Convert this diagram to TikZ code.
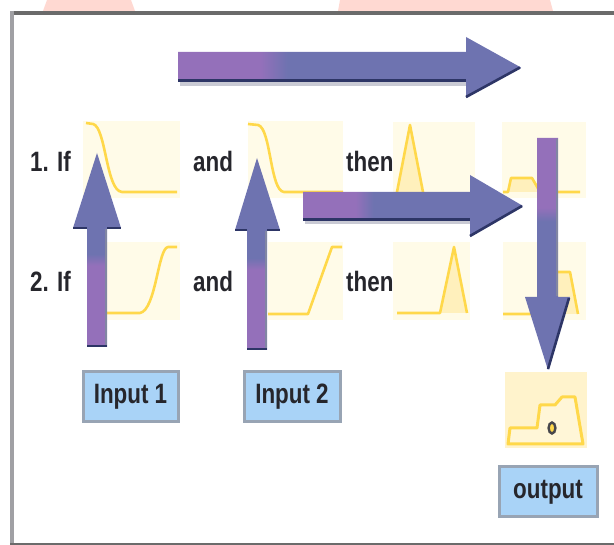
\documentclass[tikz,border=0pt]{standalone}
\usepackage{fontspec}
\newfontfamily\lblfont[FakeStretch=0.8]{Liberation Sans}
\definecolor{panelc}{HTML}{FFFBE8}
\definecolor{outpanelc}{HTML}{FFF3CC}
\definecolor{curvec}{HTML}{FFD84A}
\definecolor{trifill}{HTML}{FFF0BC}
\definecolor{boxfill}{HTML}{A9D3F7}
\definecolor{boxdraw}{HTML}{98A4B4}
\definecolor{darkedge}{HTML}{2D3566}
\definecolor{shadowc}{HTML}{C9CAD4}
\definecolor{pinkc}{HTML}{FFD9D2}
\definecolor{textc}{HTML}{26262C}
\definecolor{framec}{HTML}{6B6B6B}
\definecolor{framel}{HTML}{A0A0A4}
\pgfdeclarehorizontalshading{arrH}{100bp}{rgb(0bp)=(0.58,0.44,0.73); rgb(37bp)=(0.58,0.44,0.73); rgb(41bp)=(0.43,0.45,0.69); rgb(100bp)=(0.43,0.45,0.69)}
\pgfdeclareverticalshading{arrU}{100bp}{rgb(0bp)=(0.58,0.44,0.73); rgb(46bp)=(0.58,0.44,0.73); rgb(49bp)=(0.43,0.45,0.69); rgb(100bp)=(0.43,0.45,0.69)}
\pgfdeclareverticalshading{arrD}{100bp}{rgb(0bp)=(0.43,0.45,0.69); rgb(57bp)=(0.43,0.45,0.69); rgb(60bp)=(0.58,0.44,0.73); rgb(100bp)=(0.58,0.44,0.73)}
\tikzset{
  panel/.style={fill=panelc, draw=none, inner sep=0pt},
  curve/.style={draw=curvec, line width=2.6pt, line join=round},
  lbl/.style={font=\lblfont\bfseries\fontsize{28}{30}\selectfont, text=textc, inner sep=0pt},
  inbox/.style={fill=boxfill, draw=boxdraw, line width=3pt, inner sep=0pt,
    font=\lblfont\bfseries\fontsize{28}{30}\selectfont, text=textc},
  dark/.style={draw=darkedge, line width=2.6pt},
  shadowstrip/.style={fill=shadowc, draw=none}
}
\begin{document}
\begin{tikzpicture}[x=1pt,y=-1pt]
\useasboundingbox (0,0) rectangle (614,545);
\fill[white] (0,0) rectangle (614,545);
% faint pink shapes at the top
\fill[pinkc] (47,0) -- (131,0) -- (135,11) -- (43,11) -- cycle;
\fill[pinkc] (340,0) -- (550,0) -- (553,11) -- (338,11) -- cycle;
% frame
\draw[framec, line width=4pt] (10,13) -- (614,13);
\draw[framel, line width=4pt] (12,11) -- (12,545);
\draw[framec, line width=2.5pt] (10,544) -- (614,544);

% panels
\node[panel, minimum width=97pt, minimum height=77pt] (p11) at (131.5,159.5) {};
\node[panel, minimum width=95pt, minimum height=77pt] (p12) at (295.5,159.5) {};
\node[panel, minimum width=82pt, minimum height=76pt] (p13) at (434,160) {};
\node[panel, minimum width=84pt, minimum height=76pt] (p14) at (544,160) {};
\node[panel, minimum width=73pt, minimum height=78pt] (p21) at (143.5,281) {};
\node[panel, minimum width=75pt, minimum height=78pt] (p22) at (305.5,281) {};
\node[panel, minimum width=77pt, minimum height=78pt] (p23) at (431.5,281) {};
\node[panel, minimum width=83pt, minimum height=78pt] (p24) at (544.5,281) {};
\node[panel, fill=outpanelc, minimum width=82pt, minimum height=76pt] (pout) at (546,410) {};

% membership curves
\draw[curve] (86,123) -- (93,124) .. controls (106,127) and (106,191) .. (122,192) -- (177,192);
\draw[curve] (248,124) -- (258,125) .. controls (271,128) and (270,191) .. (284,192) -- (343,192);
\draw[curve] (107,313) -- (140,313) .. controls (156,310) and (158,248) .. (168,247) -- (177,247);
\draw[curve] (268,314) -- (308,314) -- (332,247) -- (342,247);
\filldraw[curve, fill=trifill] (397,192) -- (410,125) -- (423,192);
\fill[trifill] (440,313) -- (454,247) -- (467,313) -- cycle;
\draw[curve] (397,313) -- (440,313) -- (454,247) -- (467,313);
\fill[trifill] (508,192) -- (511,178) -- (532,178) -- (540,192) -- cycle;
\draw[curve] (503,192) -- (508,192) -- (511,178) -- (532,178) -- (540,192) -- (580,192);
\fill[trifill] (540,314) -- (552,272) -- (570,272) -- (578,314) -- cycle;
\draw[curve] (503,314) -- (540,314) -- (552,272) -- (570,272) -- (578,314);
% output aggregate
\filldraw[curve, line width=3pt, fill=trifill!60!white] (508,444) -- (510,428) -- (537,428) -- (540,405) -- (555,405) -- (562,397) -- (575,397) -- (583,444) -- cycle;
\draw[draw=textc!85, line width=2.4pt, fill=curvec] (552,428) ellipse (3.4pt and 5.5pt);

% labels
\node[lbl, anchor=base west] (if1) at (30,172) {1. If};
\node[lbl, anchor=base west] (and1) at (193,172) {and};
\node[lbl, anchor=base west] (then1) at (346,172) {then};
\node[lbl, anchor=base west] (if2) at (30,292) {2. If};
\node[lbl, anchor=base west] (and2) at (193,292) {and};
\node[lbl, anchor=base west] (then2) at (346,292) {then};

% boxes
\node[inbox, minimum width=95pt, minimum height=50pt] (in1) at (130.5,397) {Input 1};
\node[inbox, minimum width=96pt, minimum height=50pt] (in2) at (292,397) {Input 2};
\node[inbox, minimum width=98pt, minimum height=50pt] (outb) at (548,492) {output};

% top arrow
\fill[shadowstrip] (180,82) rectangle (466,86);
\shade[shading=arrH] (178,52) -- (466,52) -- (466,37) -- (521,67.5) -- (466,98) -- (466,81) -- (178,81) -- cycle;
\draw[dark] (178,80.5) -- (466,80.5);
\draw[dark] (466,97) -- (520,67.5);

% middle arrow
\fill[shadowstrip] (305,220) rectangle (470,224);
\shade[shading=arrH] (303,192) -- (470,192) -- (470,175) -- (523,206) -- (470,237) -- (470,220) -- (303,220) -- cycle;
\draw[dark] (303,219.5) -- (470,219.5);
\draw[dark] (470,236) -- (522,206);

% up arrow 1
\shade[shading=arrU] (87,347) -- (87,228) -- (73,228) -- (97,153) -- (121,228) -- (107,228) -- (107,347) -- cycle;
\draw[dark] (73,228) -- (87,228);
\draw[dark] (107,228) -- (121,228);
\draw[dark] (87,346) -- (107,346);
\draw[darkedge!60!white, line width=1.5pt] (106,229) -- (106,345);

% up arrow 2
\shade[shading=arrU] (247,350) -- (247,230) -- (235,230) -- (257,158) -- (280,230) -- (267,230) -- (267,350) -- cycle;
\draw[dark] (235,230) -- (247,230);
\draw[dark] (267,230) -- (280,230);
\draw[dark] (247,349) -- (267,349);
\draw[darkedge!60!white, line width=1.5pt] (266,231) -- (266,348);

% down arrow
\shade[shading=arrD] (537,138) -- (558,138) -- (558,297) -- (570,297) -- (548,370) -- (525,297) -- (537,297) -- cycle;
\draw[darkedge!60!white, line width=1.5pt] (557,139) -- (557,296);
\draw[dark] (569,298) -- (548,369);
\end{tikzpicture}
\end{document}
